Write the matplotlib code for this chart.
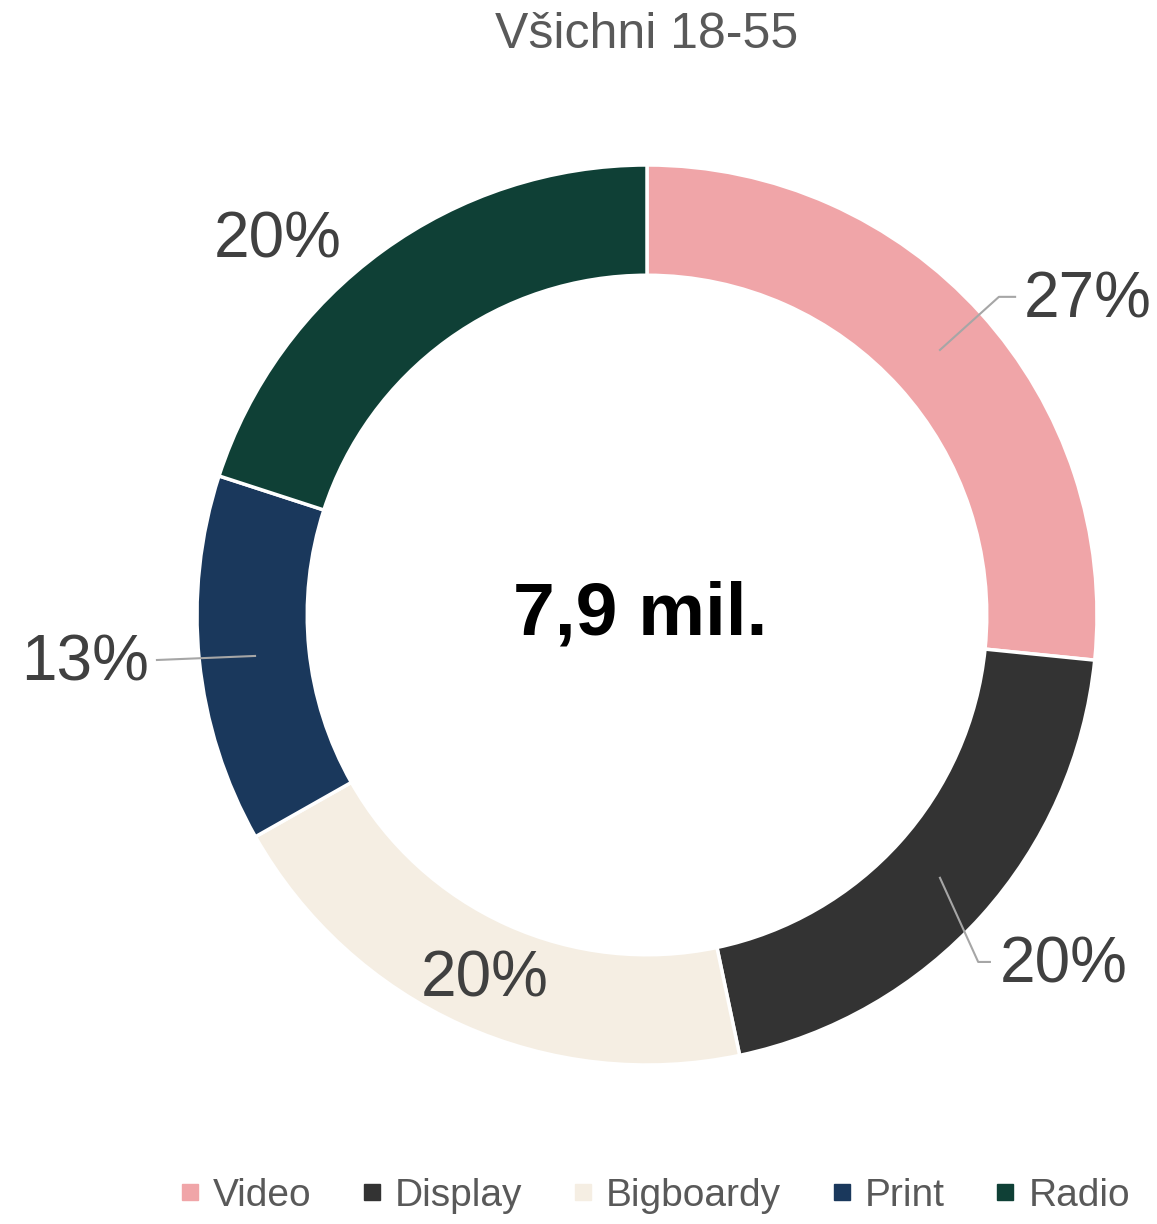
import matplotlib
matplotlib.use("Agg")
import matplotlib.pyplot as plt
from matplotlib.lines import Line2D

categories = ["Video", "Display", "Bigboardy", "Print", "Radio"]
values = [26.6, 20.1, 20.1, 13.2, 20.0]
labels = ["27%", "20%", "20%", "13%", "20%"]
colors = ["#F0A5A8", "#333333", "#F5EEE3", "#1A385C", "#0F4036"]
title = "Všichni 18-55"
center_text = "7,9 mil."

plt.rcParams['font.family'] = ['Liberation Sans', 'DejaVu Sans']

W, H = 1157, 1224
fig = plt.figure(figsize=(W / 100, H / 100), dpi=100)
cx, cy, R = 647, 615, 450
ax = fig.add_axes([(cx - R) / W, (H - cy - R) / H, 2 * R / W, 2 * R / H])

wedges, _ = ax.pie(values, colors=colors, startangle=90, counterclock=False,
                   radius=1, wedgeprops=dict(width=0.245, edgecolor='white', linewidth=2.5))
ax.set_xlim(-1, 1)
ax.set_ylim(-1, 1)
ax.set_aspect('equal')
ax.axis('off')

# label positions (data units)
label_pos = [(0.98, 0.70), (0.925, -0.778), (-0.36, -0.81), (-1.249, -0.107), (-0.82, 0.833)]
leaders = [
    [(0.651, 0.589), (0.782, 0.707), (0.818, 0.707)],
    [(0.651, -0.584), (0.736, -0.771), (0.762, -0.771)],
    None,
    [(-0.871, -0.091), (-1.089, -0.100)],
    None,
]
for lab, pos, ld in zip(labels, label_pos, leaders):
    ax.text(pos[0], pos[1], lab, fontsize=46, color='#404040', ha='center', va='center',
            clip_on=False)
    if ld:
        xs, ys = zip(*ld)
        ax.plot(xs, ys, color='#A6A6A6', lw=1.5, clip_on=False)

ax.text(-0.015, 0.0, center_text, fontsize=54, fontweight='bold', color='black',
        ha='center', va='center')

fig.text(647 / W, 1 - 35 / H, title, fontsize=36, color='#595959', ha='center', va='center')

handles = [Line2D([], [], marker='s', linestyle='none', markersize=12,
                  markerfacecolor=c, markeredgecolor=c) for c in colors]
fig.legend(handles, categories, loc='center', bbox_to_anchor=(654 / W, 1 - 1196 / H),
           ncol=5, frameon=False, fontsize=28, labelcolor='#595959',
           handlelength=0.6, handletextpad=0.3, columnspacing=1.25)

fig.savefig("out.png", dpi=100)
